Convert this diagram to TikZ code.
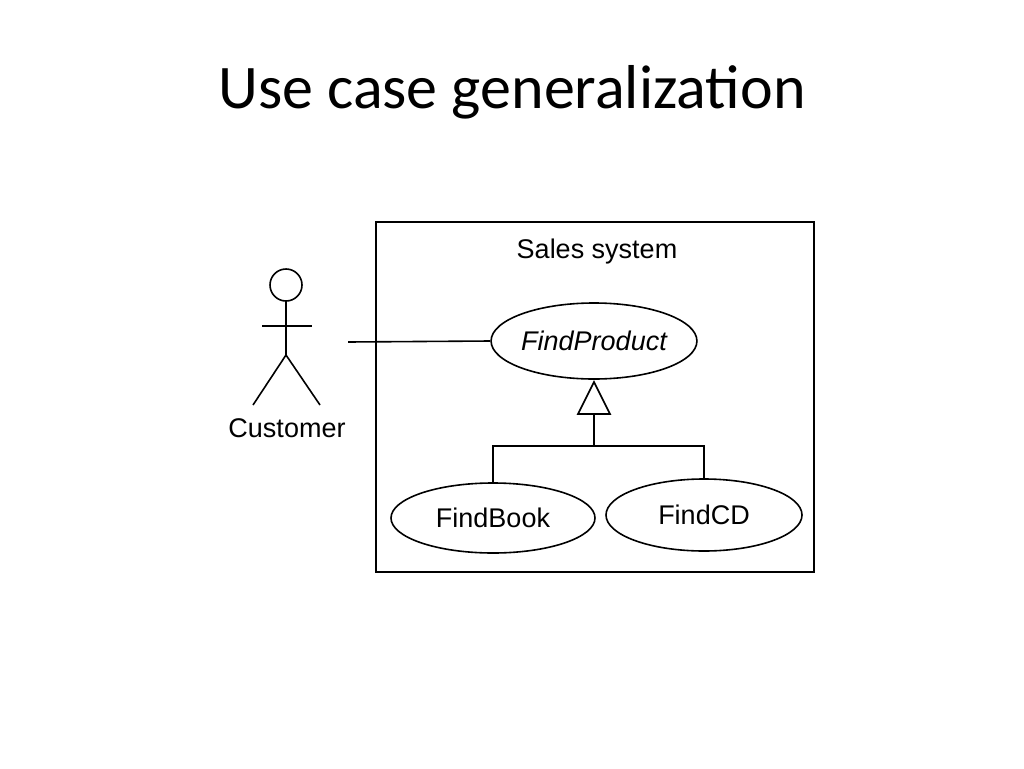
\documentclass[tikz,border=0pt]{standalone}
\usepackage{fontspec}
\usetikzlibrary{shapes.geometric}
\setmainfont{Liberation Sans}
\newfontfamily\titlefont{Carlito}
\begin{document}
\begin{tikzpicture}[x=1pt,y=-1pt,line width=1.6pt,
  lbl/.style={font=\fontsize{27}{32}\selectfont},
  uc/.style={draw,ellipse,inner sep=0pt,lbl}]
\useasboundingbox (0,0) rectangle (1024,768);
\node[font=\titlefont\fontsize{62}{70}\selectfont] (title) at (512,92) {Use case generalization};
\draw (376,222) rectangle (814,572);
\node[lbl] (sys) at (597,252) {Sales system};
% actor
\draw (286,285) circle (16);
\draw (286,301) -- (286,355);
\draw (262,326) -- (312,326);
\draw (253,405) -- (286,355) -- (320,405);
\node[lbl] (cust) at (287,428) {Customer};
\coordinate (actor) at (348,342);
\node[uc,minimum width=190pt,minimum height=76pt] (fp) at (594,341) {\itshape FindProduct};
\node[uc,minimum width=204pt,minimum height=70pt] (fb) at (493,518) {FindBook};
\node[uc,minimum width=196pt,minimum height=72pt] (fc) at (704,515) {FindCD};
\draw (actor) -- (fp.west);
\coordinate (apex) at (594,382);
\coordinate (tl) at (578,414);
\coordinate (tr) at (610,414);
\coordinate (tb) at (594,414);
\coordinate (j) at (594,446);
\draw (apex) -- (tl) -- (tr) -- cycle;
\draw (tb) -- (j);
\draw (fb.north) -- (fb.north |- j) -- (fc.north |- j) -- (fc.north);
\end{tikzpicture}
\end{document}
